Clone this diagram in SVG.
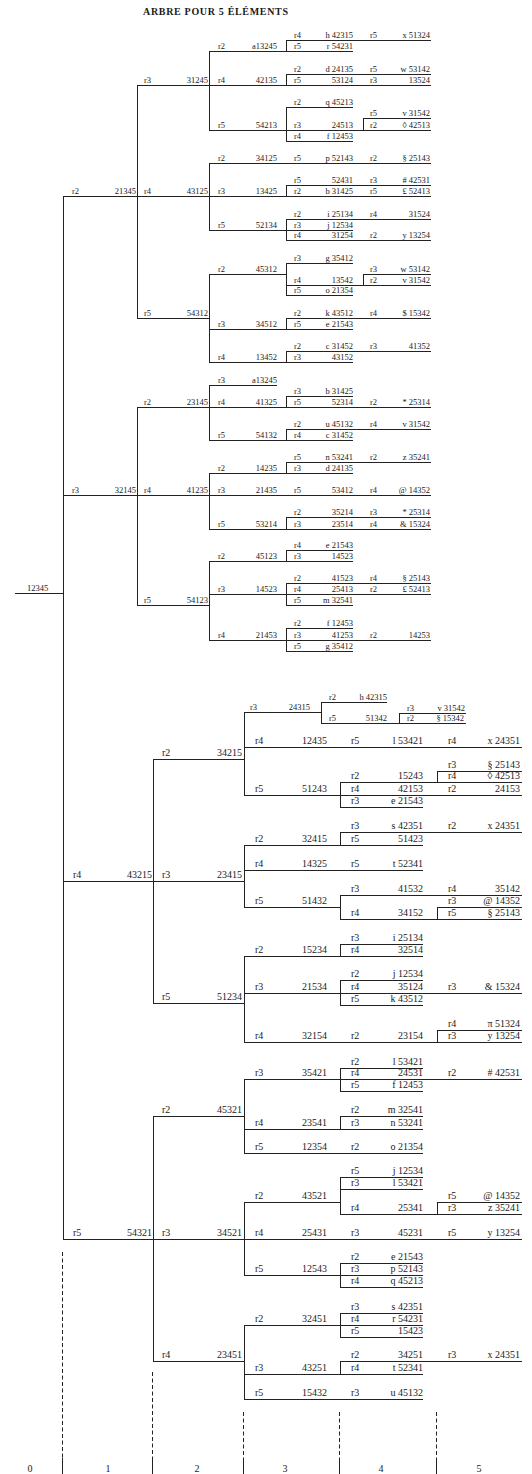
<svg xmlns="http://www.w3.org/2000/svg" width="532" height="1474" viewBox="0 0 532 1474">
<style>
path{stroke:#222;stroke-width:1;fill:none}
text{font-family:"Liberation Serif","Times New Roman",serif;fill:#1a1a1a}
.s text{font-size:8.5px}
.b text{font-size:10px}
.e{text-anchor:end}
.m{text-anchor:middle}
.d{stroke-dasharray:4 2.5}
</style>
<rect width="532" height="1474" fill="#ffffff"/>
<text x="143" y="15" font-weight="bold" font-size="10" textLength="145" lengthAdjust="spacing">ARBRE POUR 5 ÉLÉMENTS</text>

<g id="connectors">
<path d="M63.5 196.5V1239.5"/>
<path d="M137.5 85.5V318.5M137.5 407.5V605.5"/>
<path d="M209.5 51.5V130.5M209.5 163.5V230.5M209.5 274.5V362.5M209.5 385.5V440.5M209.5 473.5V529.5M209.5 561.5V640.5"/>
<path d="M286.5 40.5V51.5M286.5 74.5V85.5M286.5 107.5V141.5M286.5 185.5V196.5M286.5 219.5V240.5M286.5 263.5V295.5M286.5 318.5V329.5M286.5 351.5V362.5M286.5 396.5V407.5M286.5 429.5V440.5M286.5 462.5V473.5M286.5 517.5V529.5M286.5 550.5V561.5M286.5 583.5V605.5M286.5 628.5V651.5"/>
<path d="M363.5 118.5V130.5M363.5 274.5V285.5"/>
<path d="M153.5 759.5V1003.5M153.5 1116.5V1361.5"/>
<path d="M244.5 712.5V795.5M244.5 845.5V907.5M244.5 956.5V1042.5M244.5 1079.5V1153.5M244.5 1202.5V1275.5M244.5 1325.5V1399.5"/>
<path d="M321.5 702.5V723.5M399.5 713.5V723.5"/>
<path d="M340.5 782.5V807.5M340.5 832.5V845.5M340.5 895.5V919.5M340.5 944.5V956.5M340.5 980.5V1005.5M340.5 1068.5V1091.5M340.5 1116.5V1129.5M340.5 1177.5V1214.5M340.5 1263.5V1287.5M340.5 1313.5V1337.5M340.5 1361.5V1374.5"/>
<path d="M437.5 771.5V782.5M437.5 907.5V919.5M437.5 1030.5V1042.5M437.5 1202.5V1214.5"/>
</g>

<g id="axis">
<path class="d" d="M62.5 1252V1458M152.5 1372V1458M243.5 1412V1458M339.5 1412V1458M436.5 1412V1458"/>
<path d="M62.5 1458V1474M152.5 1458V1474M243.5 1458V1474M339.5 1458V1474M436.5 1458V1474"/>
<text class="m" x="30" y="1472" font-size="10">0</text>
<text class="m" x="108" y="1472" font-size="10">1</text>
<text class="m" x="197" y="1472" font-size="10">2</text>
<text class="m" x="285" y="1472" font-size="10">3</text>
<text class="m" x="381" y="1472" font-size="10">4</text>
<text class="m" x="479" y="1472" font-size="10">5</text>
</g>

<g class="s">
<g id="n-12345"><path d="M15 593.5H63"/><text x="27" y="590.5">12345</text></g>
<g id="n-21345"><path d="M63 196.5H137"/><text x="72" y="193.5">r2</text><text class="e" x="136" y="193.5">21345</text></g>
<g id="n-32145"><path d="M63 495.5H137"/><text x="72" y="492.5">r3</text><text class="e" x="136" y="492.5">32145</text></g>

<g id="n-31245"><path d="M137 85.5H209"/><text x="144" y="82.5">r3</text><text class="e" x="208" y="82.5">31245</text></g>
<g id="n-43125"><path d="M137 196.5H209"/><text x="144" y="193.5">r4</text><text class="e" x="208" y="193.5">43125</text></g>
<g id="n-54312"><path d="M137 318.5H209"/><text x="144" y="315.5">r5</text><text class="e" x="208" y="315.5">54312</text></g>
<g id="n-23145"><path d="M137 407.5H209"/><text x="144" y="404.5">r2</text><text class="e" x="208" y="404.5">23145</text></g>
<g id="n-41235"><path d="M137 495.5H209"/><text x="144" y="492.5">r4</text><text class="e" x="208" y="492.5">41235</text></g>
<g id="n-54123"><path d="M137 605.5H209"/><text x="144" y="602.5">r5</text><text class="e" x="208" y="602.5">54123</text></g>

<g id="n-13245-51"><path d="M209 51.5H286"/><text x="218" y="48.5">r2</text><text class="e" x="277" y="48.5">a13245</text></g>
<g id="n-42135"><path d="M209 85.5H286"/><text x="218" y="82.5">r4</text><text class="e" x="277" y="82.5">42135</text></g>
<g id="n-54213"><path d="M209 130.5H286"/><text x="218" y="127.5">r5</text><text class="e" x="277" y="127.5">54213</text></g>
<g id="n-34125"><path d="M209 163.5H286"/><text x="218" y="160.5">r2</text><text class="e" x="277" y="160.5">34125</text></g>
<g id="n-13425"><path d="M209 196.5H286"/><text x="218" y="193.5">r3</text><text class="e" x="277" y="193.5">13425</text></g>
<g id="n-52134"><path d="M209 230.5H286"/><text x="218" y="227.5">r5</text><text class="e" x="277" y="227.5">52134</text></g>
<g id="n-45312"><path d="M209 274.5H286"/><text x="218" y="271.5">r2</text><text class="e" x="277" y="271.5">45312</text></g>
<g id="n-34512"><path d="M209 329.5H286"/><text x="218" y="326.5">r3</text><text class="e" x="277" y="326.5">34512</text></g>
<g id="n-13452"><path d="M209 362.5H286"/><text x="218" y="359.5">r4</text><text class="e" x="277" y="359.5">13452</text></g>
<g id="n-13245-385"><path d="M209 385.5H277"/><text x="218" y="382.5">r3</text><text class="e" x="277" y="382.5">a13245</text></g>
<g id="n-41325"><path d="M209 407.5H286"/><text x="218" y="404.5">r4</text><text class="e" x="277" y="404.5">41325</text></g>
<g id="n-54132"><path d="M209 440.5H286"/><text x="218" y="437.5">r5</text><text class="e" x="277" y="437.5">54132</text></g>
<g id="n-14235"><path d="M209 473.5H286"/><text x="218" y="470.5">r2</text><text class="e" x="277" y="470.5">14235</text></g>
<g id="n-21435"><path d="M209 495.5H286"/><text x="218" y="492.5">r3</text><text class="e" x="277" y="492.5">21435</text></g>
<g id="n-53214"><path d="M209 529.5H286"/><text x="218" y="526.5">r5</text><text class="e" x="277" y="526.5">53214</text></g>
<g id="n-45123"><path d="M209 561.5H286"/><text x="218" y="558.5">r2</text><text class="e" x="277" y="558.5">45123</text></g>
<g id="n-14523-594"><path d="M209 594.5H286"/><text x="218" y="591.5">r3</text><text class="e" x="277" y="591.5">14523</text></g>
<g id="n-21453"><path d="M209 640.5H286"/><text x="218" y="637.5">r4</text><text class="e" x="277" y="637.5">21453</text></g>

<g id="n-42315-40"><path d="M286 40.5H363"/><text x="294" y="37.5">r4</text><text class="e" x="353" y="37.5">h 42315</text></g>
<g id="n-54231-51"><path d="M286 51.5H353"/><text x="294" y="48.5">r5</text><text class="e" x="353" y="48.5">r 54231</text></g>
<g id="n-24135-74"><path d="M286 74.5H363"/><text x="294" y="71.5">r2</text><text class="e" x="353" y="71.5">d 24135</text></g>
<g id="n-53124"><path d="M286 85.5H363"/><text x="294" y="82.5">r5</text><text class="e" x="353" y="82.5">53124</text></g>
<g id="n-45213-107"><path d="M286 107.5H353"/><text x="294" y="104.5">r2</text><text class="e" x="353" y="104.5">q 45213</text></g>
<g id="n-24513"><path d="M286 130.5H363"/><text x="294" y="127.5">r3</text><text class="e" x="353" y="127.5">24513</text></g>
<g id="n-12453-141"><path d="M286 141.5H353"/><text x="294" y="138.5">r4</text><text class="e" x="353" y="138.5">f 12453</text></g>
<g id="n-52143-163"><path d="M286 163.5H363"/><text x="294" y="160.5">r5</text><text class="e" x="353" y="160.5">p 52143</text></g>
<g id="n-52431"><path d="M286 185.5H363"/><text x="294" y="182.5">r5</text><text class="e" x="353" y="182.5">52431</text></g>
<g id="n-31425-196"><path d="M286 196.5H363"/><text x="294" y="193.5">r2</text><text class="e" x="353" y="193.5">b 31425</text></g>
<g id="n-25134-219"><path d="M286 219.5H363"/><text x="294" y="216.5">r2</text><text class="e" x="353" y="216.5">i 25134</text></g>
<g id="n-12534-230"><path d="M286 230.5H353"/><text x="294" y="227.5">r3</text><text class="e" x="353" y="227.5">j 12534</text></g>
<g id="n-31254"><path d="M286 240.5H363"/><text x="294" y="237.5">r4</text><text class="e" x="353" y="237.5">31254</text></g>
<g id="n-35412-263"><path d="M286 263.5H353"/><text x="294" y="260.5">r3</text><text class="e" x="353" y="260.5">g 35412</text></g>
<g id="n-13542"><path d="M286 285.5H363"/><text x="294" y="282.5">r4</text><text class="e" x="353" y="282.5">13542</text></g>
<g id="n-21354-295"><path d="M286 295.5H353"/><text x="294" y="292.5">r5</text><text class="e" x="353" y="292.5">o 21354</text></g>
<g id="n-43512-318"><path d="M286 318.5H363"/><text x="294" y="315.5">r2</text><text class="e" x="353" y="315.5">k 43512</text></g>
<g id="n-21543-329"><path d="M286 329.5H353"/><text x="294" y="326.5">r5</text><text class="e" x="353" y="326.5">e 21543</text></g>
<g id="n-31452-351"><path d="M286 351.5H363"/><text x="294" y="348.5">r2</text><text class="e" x="353" y="348.5">c 31452</text></g>
<g id="n-43152"><path d="M286 362.5H353"/><text x="294" y="359.5">r3</text><text class="e" x="353" y="359.5">43152</text></g>
<g id="n-31425-396"><path d="M286 396.5H353"/><text x="294" y="393.5">r3</text><text class="e" x="353" y="393.5">b 31425</text></g>
<g id="n-52314"><path d="M286 407.5H363"/><text x="294" y="404.5">r5</text><text class="e" x="353" y="404.5">52314</text></g>
<g id="n-45132-429"><path d="M286 429.5H363"/><text x="294" y="426.5">r2</text><text class="e" x="353" y="426.5">u 45132</text></g>
<g id="n-31452-440"><path d="M286 440.5H353"/><text x="294" y="437.5">r4</text><text class="e" x="353" y="437.5">c 31452</text></g>
<g id="n-53241-462"><path d="M286 462.5H363"/><text x="294" y="459.5">r5</text><text class="e" x="353" y="459.5">n 53241</text></g>
<g id="n-24135-473"><path d="M286 473.5H353"/><text x="294" y="470.5">r3</text><text class="e" x="353" y="470.5">d 24135</text></g>
<g id="n-53412"><path d="M286 495.5H363"/><text x="294" y="492.5">r5</text><text class="e" x="353" y="492.5">53412</text></g>
<g id="n-35214"><path d="M286 517.5H363"/><text x="294" y="514.5">r2</text><text class="e" x="353" y="514.5">35214</text></g>
<g id="n-23514"><path d="M286 529.5H363"/><text x="294" y="526.5">r3</text><text class="e" x="353" y="526.5">23514</text></g>
<g id="n-21543-550"><path d="M286 550.5H353"/><text x="294" y="547.5">r4</text><text class="e" x="353" y="547.5">e 21543</text></g>
<g id="n-14523-561"><path d="M286 561.5H353"/><text x="294" y="558.5">r3</text><text class="e" x="353" y="558.5">14523</text></g>
<g id="n-41523"><path d="M286 583.5H363"/><text x="294" y="580.5">r2</text><text class="e" x="353" y="580.5">41523</text></g>
<g id="n-25413"><path d="M286 594.5H363"/><text x="294" y="591.5">r4</text><text class="e" x="353" y="591.5">25413</text></g>
<g id="n-32541-605"><path d="M286 605.5H353"/><text x="294" y="602.5">r5</text><text class="e" x="353" y="602.5">m 32541</text></g>
<g id="n-12453-628"><path d="M286 628.5H353"/><text x="294" y="625.5">r2</text><text class="e" x="353" y="625.5">f 12453</text></g>
<g id="n-41253"><path d="M286 640.5H363"/><text x="294" y="637.5">r3</text><text class="e" x="353" y="637.5">41253</text></g>
<g id="n-35412-651"><path d="M286 651.5H353"/><text x="294" y="648.5">r5</text><text class="e" x="353" y="648.5">g 35412</text></g>

<g id="n-51324-40"><path d="M363 40.5H431"/><text x="370" y="37.5">r5</text><text class="e" x="430" y="37.5">x 51324</text></g>
<g id="n-53142-74"><path d="M363 74.5H431"/><text x="370" y="71.5">r5</text><text class="e" x="430" y="71.5">w 53142</text></g>
<g id="n-13524"><path d="M363 85.5H431"/><text x="370" y="82.5">r3</text><text class="e" x="430" y="82.5">13524</text></g>
<g id="n-31542-118"><path d="M363 118.5H431"/><text x="370" y="115.5">r5</text><text class="e" x="430" y="115.5">v 31542</text></g>
<g id="n-42513-130"><path d="M363 130.5H431"/><text x="370" y="127.5">r2</text><text class="e" x="430" y="127.5">◊ 42513</text></g>
<g id="n-25143-163"><path d="M363 163.5H431"/><text x="370" y="160.5">r2</text><text class="e" x="430" y="160.5">§ 25143</text></g>
<g id="n-42531-185"><path d="M363 185.5H431"/><text x="370" y="182.5">r3</text><text class="e" x="430" y="182.5"># 42531</text></g>
<g id="n-52413-196"><path d="M363 196.5H431"/><text x="370" y="193.5">r5</text><text class="e" x="430" y="193.5">£ 52413</text></g>
<g id="n-31524"><path d="M363 219.5H431"/><text x="370" y="216.5">r4</text><text class="e" x="430" y="216.5">31524</text></g>
<g id="n-13254-240"><path d="M363 240.5H431"/><text x="370" y="237.5">r2</text><text class="e" x="430" y="237.5">y 13254</text></g>
<g id="n-53142-274"><path d="M363 274.5H431"/><text x="370" y="271.5">r3</text><text class="e" x="430" y="271.5">w 53142</text></g>
<g id="n-31542-285"><path d="M363 285.5H431"/><text x="370" y="282.5">r2</text><text class="e" x="430" y="282.5">v 31542</text></g>
<g id="n-15342-318"><path d="M363 318.5H431"/><text x="370" y="315.5">r4</text><text class="e" x="430" y="315.5">$ 15342</text></g>
<g id="n-41352"><path d="M363 351.5H431"/><text x="370" y="348.5">r3</text><text class="e" x="430" y="348.5">41352</text></g>
<g id="n-25314-407"><path d="M363 407.5H431"/><text x="370" y="404.5">r2</text><text class="e" x="430" y="404.5">* 25314</text></g>
<g id="n-31542-429"><path d="M363 429.5H431"/><text x="370" y="426.5">r4</text><text class="e" x="430" y="426.5">v 31542</text></g>
<g id="n-35241-462"><path d="M363 462.5H431"/><text x="370" y="459.5">r2</text><text class="e" x="430" y="459.5">z 35241</text></g>
<g id="n-14352-495"><path d="M363 495.5H431"/><text x="370" y="492.5">r4</text><text class="e" x="430" y="492.5">@ 14352</text></g>
<g id="n-25314-517"><path d="M363 517.5H431"/><text x="370" y="514.5">r3</text><text class="e" x="430" y="514.5">* 25314</text></g>
<g id="n-15324-529"><path d="M363 529.5H431"/><text x="370" y="526.5">r4</text><text class="e" x="430" y="526.5">&amp; 15324</text></g>
<g id="n-25143-583"><path d="M363 583.5H431"/><text x="370" y="580.5">r4</text><text class="e" x="430" y="580.5">§ 25143</text></g>
<g id="n-52413-594"><path d="M363 594.5H431"/><text x="370" y="591.5">r2</text><text class="e" x="430" y="591.5">£ 52413</text></g>
<g id="n-14253"><path d="M363 640.5H431"/><text x="370" y="637.5">r2</text><text class="e" x="430" y="637.5">14253</text></g>

<g id="n-24315"><path d="M244 712.5H321"/><text x="250" y="709.5">r3</text><text class="e" x="310" y="709.5">24315</text></g>
<g id="n-42315-702"><path d="M321 702.5H387"/><text x="329" y="699.5">r2</text><text class="e" x="387" y="699.5">h 42315</text></g>
<g id="n-51342"><path d="M321 723.5H399"/><text x="329" y="720.5">r5</text><text class="e" x="387" y="720.5">51342</text></g>
<g id="n-31542-713"><path d="M399 713.5H466"/><text x="407" y="710.5">r3</text><text class="e" x="465" y="710.5">v 31542</text></g>
<g id="n-15342-723"><path d="M399 723.5H466"/><text x="407" y="720.5">r2</text><text class="e" x="464" y="720.5">§ 15342</text></g>
</g>

<g class="b">
<g id="n-43215"><path d="M63 881.5H153"/><text x="73" y="878">r4</text><text class="e" x="152" y="878">43215</text></g>
<g id="n-54321"><path d="M63 1239.5H153"/><text x="73" y="1236">r5</text><text class="e" x="152" y="1236">54321</text></g>

<g id="n-34215"><path d="M153 759.5H244"/><text x="162" y="756">r2</text><text class="e" x="242" y="756">34215</text></g>
<g id="n-23415"><path d="M153 881.5H244"/><text x="162" y="878">r3</text><text class="e" x="242" y="878">23415</text></g>
<g id="n-51234"><path d="M153 1003.5H244"/><text x="162" y="1000">r5</text><text class="e" x="242" y="1000">51234</text></g>
<g id="n-45321"><path d="M153 1116.5H244"/><text x="162" y="1113">r2</text><text class="e" x="242" y="1113">45321</text></g>
<g id="n-34521"><path d="M153 1239.5H244"/><text x="162" y="1236">r3</text><text class="e" x="242" y="1236">34521</text></g>
<g id="n-23451"><path d="M153 1361.5H244"/><text x="162" y="1358">r4</text><text class="e" x="242" y="1358">23451</text></g>

<g id="n-12435"><path d="M244 747.5H340"/><text x="255" y="744">r4</text><text class="e" x="327" y="744">12435</text></g>
<g id="n-51243"><path d="M244 795.5H340"/><text x="255" y="792">r5</text><text class="e" x="327" y="792">51243</text></g>
<g id="n-32415"><path d="M244 845.5H340"/><text x="255" y="842">r2</text><text class="e" x="327" y="842">32415</text></g>
<g id="n-14325"><path d="M244 870.5H340"/><text x="255" y="867">r4</text><text class="e" x="327" y="867">14325</text></g>
<g id="n-51432"><path d="M244 907.5H340"/><text x="255" y="904">r5</text><text class="e" x="327" y="904">51432</text></g>
<g id="n-15234"><path d="M244 956.5H340"/><text x="255" y="953">r2</text><text class="e" x="327" y="953">15234</text></g>
<g id="n-21534"><path d="M244 993.5H340"/><text x="255" y="990">r3</text><text class="e" x="327" y="990">21534</text></g>
<g id="n-32154"><path d="M244 1042.5H340"/><text x="255" y="1039">r4</text><text class="e" x="327" y="1039">32154</text></g>
<g id="n-35421"><path d="M244 1079.5H340"/><text x="255" y="1076">r3</text><text class="e" x="327" y="1076">35421</text></g>
<g id="n-23541"><path d="M244 1129.5H340"/><text x="255" y="1126">r4</text><text class="e" x="327" y="1126">23541</text></g>
<g id="n-12354"><path d="M244 1153.5H340"/><text x="255" y="1150">r5</text><text class="e" x="327" y="1150">12354</text></g>
<g id="n-43521"><path d="M244 1202.5H340"/><text x="255" y="1199">r2</text><text class="e" x="327" y="1199">43521</text></g>
<g id="n-25431"><path d="M244 1239.5H340"/><text x="255" y="1236">r4</text><text class="e" x="327" y="1236">25431</text></g>
<g id="n-12543"><path d="M244 1275.5H340"/><text x="255" y="1272">r5</text><text class="e" x="327" y="1272">12543</text></g>
<g id="n-32451"><path d="M244 1325.5H340"/><text x="255" y="1322">r2</text><text class="e" x="327" y="1322">32451</text></g>
<g id="n-43251"><path d="M244 1374.5H340"/><text x="255" y="1371">r3</text><text class="e" x="327" y="1371">43251</text></g>
<g id="n-15432"><path d="M244 1399.5H340"/><text x="255" y="1396">r5</text><text class="e" x="327" y="1396">15432</text></g>

<g id="n-53421-747"><path d="M340 747.5H437"/><text x="351" y="744">r5</text><text class="e" x="423" y="744">l 53421</text></g>
<g id="n-15243"><path d="M340 782.5H437"/><text x="351" y="779">r2</text><text class="e" x="423" y="779">15243</text></g>
<g id="n-42153"><path d="M340 795.5H437"/><text x="351" y="792">r4</text><text class="e" x="423" y="792">42153</text></g>
<g id="n-21543-807"><path d="M340 807.5H423"/><text x="351" y="804">r3</text><text class="e" x="423" y="804">e 21543</text></g>
<g id="n-42351-832"><path d="M340 832.5H437"/><text x="351" y="829">r3</text><text class="e" x="423" y="829">s 42351</text></g>
<g id="n-51423"><path d="M340 845.5H423"/><text x="351" y="842">r5</text><text class="e" x="423" y="842">51423</text></g>
<g id="n-52341-870"><path d="M340 870.5H423"/><text x="351" y="867">r5</text><text class="e" x="423" y="867">t 52341</text></g>
<g id="n-41532"><path d="M340 895.5H437"/><text x="351" y="892">r3</text><text class="e" x="423" y="892">41532</text></g>
<g id="n-34152"><path d="M340 919.5H437"/><text x="351" y="916">r4</text><text class="e" x="423" y="916">34152</text></g>
<g id="n-25134-944"><path d="M340 944.5H423"/><text x="351" y="941">r3</text><text class="e" x="423" y="941">i 25134</text></g>
<g id="n-32514"><path d="M340 956.5H423"/><text x="351" y="953">r4</text><text class="e" x="423" y="953">32514</text></g>
<g id="n-12534-980"><path d="M340 980.5H423"/><text x="351" y="977">r2</text><text class="e" x="423" y="977">j 12534</text></g>
<g id="n-35124"><path d="M340 993.5H437"/><text x="351" y="990">r4</text><text class="e" x="423" y="990">35124</text></g>
<g id="n-43512-1005"><path d="M340 1005.5H423"/><text x="351" y="1002">r5</text><text class="e" x="423" y="1002">k 43512</text></g>
<g id="n-23154"><path d="M340 1042.5H437"/><text x="351" y="1039">r2</text><text class="e" x="423" y="1039">23154</text></g>
<g id="n-53421-1068"><path d="M340 1068.5H423"/><text x="351" y="1065">r2</text><text class="e" x="423" y="1065">l 53421</text></g>
<g id="n-24531"><path d="M340 1079.5H437"/><text x="351" y="1076">r4</text><text class="e" x="423" y="1076">24531</text></g>
<g id="n-12453-1091"><path d="M340 1091.5H423"/><text x="351" y="1088">r5</text><text class="e" x="423" y="1088">f 12453</text></g>
<g id="n-32541-1116"><path d="M340 1116.5H423"/><text x="351" y="1113">r2</text><text class="e" x="423" y="1113">m 32541</text></g>
<g id="n-53241-1129"><path d="M340 1129.5H423"/><text x="351" y="1126">r3</text><text class="e" x="423" y="1126">n 53241</text></g>
<g id="n-21354-1153"><path d="M340 1153.5H423"/><text x="351" y="1150">r2</text><text class="e" x="423" y="1150">o 21354</text></g>
<g id="n-12534-1177"><path d="M340 1177.5H423"/><text x="351" y="1174">r5</text><text class="e" x="423" y="1174">j 12534</text></g>
<g id="n-53421-1189"><path d="M340 1189.5H423"/><text x="351" y="1186">r3</text><text class="e" x="423" y="1186">l 53421</text></g>
<g id="n-25341"><path d="M340 1214.5H437"/><text x="351" y="1211">r4</text><text class="e" x="423" y="1211">25341</text></g>
<g id="n-45231"><path d="M340 1239.5H437"/><text x="351" y="1236">r3</text><text class="e" x="423" y="1236">45231</text></g>
<g id="n-21543-1263"><path d="M340 1263.5H423"/><text x="351" y="1260">r2</text><text class="e" x="423" y="1260">e 21543</text></g>
<g id="n-52143-1275"><path d="M340 1275.5H423"/><text x="351" y="1272">r3</text><text class="e" x="423" y="1272">p 52143</text></g>
<g id="n-45213-1287"><path d="M340 1287.5H423"/><text x="351" y="1284">r4</text><text class="e" x="423" y="1284">q 45213</text></g>
<g id="n-42351-1313"><path d="M340 1313.5H423"/><text x="351" y="1310">r3</text><text class="e" x="423" y="1310">s 42351</text></g>
<g id="n-54231-1325"><path d="M340 1325.5H423"/><text x="351" y="1322">r4</text><text class="e" x="423" y="1322">r 54231</text></g>
<g id="n-15423"><path d="M340 1337.5H423"/><text x="351" y="1334">r5</text><text class="e" x="423" y="1334">15423</text></g>
<g id="n-34251"><path d="M340 1361.5H437"/><text x="351" y="1358">r2</text><text class="e" x="423" y="1358">34251</text></g>
<g id="n-52341-1374"><path d="M340 1374.5H423"/><text x="351" y="1371">r4</text><text class="e" x="423" y="1371">t 52341</text></g>
<g id="n-45132-1399"><path d="M340 1399.5H423"/><text x="351" y="1396">r3</text><text class="e" x="423" y="1396">u 45132</text></g>

<g id="n-24351-747"><path d="M437 747.5H522"/><text x="448" y="744">r4</text><text class="e" x="520" y="744">x 24351</text></g>
<g id="n-25143-771"><path d="M437 771.5H522"/><text x="448" y="768">r3</text><text class="e" x="520" y="768">§ 25143</text></g>
<g id="n-42513-782"><path d="M437 782.5H522"/><text x="448" y="779">r4</text><text class="e" x="520" y="779">◊ 42513</text></g>
<g id="n-24153"><path d="M437 795.5H522"/><text x="448" y="792">r2</text><text class="e" x="520" y="792">24153</text></g>
<g id="n-24351-832"><path d="M437 832.5H522"/><text x="448" y="829">r2</text><text class="e" x="520" y="829">x 24351</text></g>
<g id="n-35142"><path d="M437 895.5H522"/><text x="448" y="892">r4</text><text class="e" x="520" y="892">35142</text></g>
<g id="n-14352-907"><path d="M437 907.5H522"/><text x="448" y="904">r3</text><text class="e" x="520" y="904">@ 14352</text></g>
<g id="n-25143-919"><path d="M437 919.5H522"/><text x="448" y="916">r5</text><text class="e" x="520" y="916">§ 25143</text></g>
<g id="n-15324-993"><path d="M437 993.5H522"/><text x="448" y="990">r3</text><text class="e" x="520" y="990">&amp; 15324</text></g>
<g id="n-51324-1030"><path d="M437 1030.5H522"/><text x="448" y="1027">r4</text><text class="e" x="520" y="1027">π 51324</text></g>
<g id="n-13254-1042"><path d="M437 1042.5H522"/><text x="448" y="1039">r3</text><text class="e" x="520" y="1039">y 13254</text></g>
<g id="n-42531-1079"><path d="M437 1079.5H522"/><text x="448" y="1076">r2</text><text class="e" x="520" y="1076"># 42531</text></g>
<g id="n-14352-1202"><path d="M437 1202.5H522"/><text x="448" y="1199">r5</text><text class="e" x="520" y="1199">@ 14352</text></g>
<g id="n-35241-1214"><path d="M437 1214.5H522"/><text x="448" y="1211">r3</text><text class="e" x="520" y="1211">z 35241</text></g>
<g id="n-13254-1239"><path d="M437 1239.5H522"/><text x="448" y="1236">r5</text><text class="e" x="520" y="1236">y 13254</text></g>
<g id="n-24351-1361"><path d="M437 1361.5H522"/><text x="448" y="1358">r3</text><text class="e" x="520" y="1358">x 24351</text></g>
</g>
</svg>
